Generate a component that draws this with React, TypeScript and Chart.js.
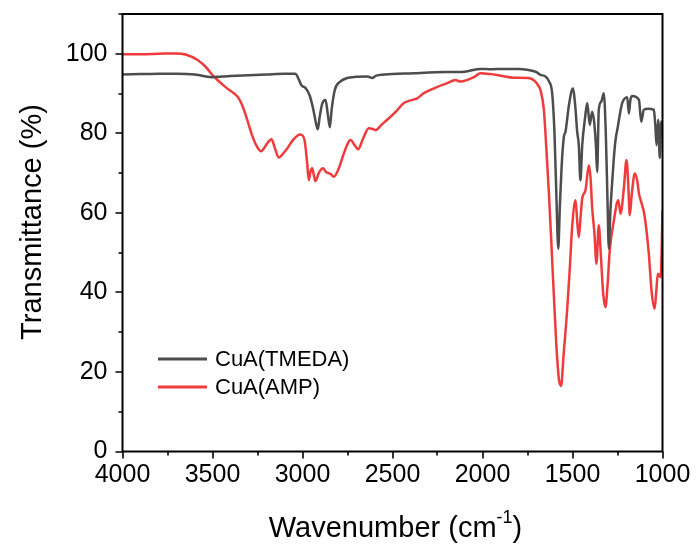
import React, { useEffect, useRef } from "react";
import { Chart, registerables } from "chart.js";

Chart.register(...registerables);

const tmedaWavenumber = [
  4000, 3900, 3800, 3700, 3600, 3550, 3500, 3450, 3400, 3300, 3200, 3100, 3040, 3020, 3005, 2985, 2960, 2940,
  2925, 2915, 2905, 2890, 2872, 2860, 2848, 2838, 2820, 2790, 2752, 2700, 2640, 2613, 2590, 2500, 2383, 2300,
  2200, 2100, 2011, 1950, 1900, 1800, 1752, 1700, 1678, 1650, 1630, 1613, 1600, 1590, 1579, 1570, 1560, 1548,
  1539, 1520, 1498, 1485, 1474, 1465, 1456, 1446, 1430, 1418, 1404, 1391, 1380, 1370, 1363, 1354, 1340, 1326,
  1315, 1305, 1298, 1290, 1280, 1270, 1261, 1248, 1236, 1224, 1196, 1187, 1178, 1168, 1131, 1118, 1104, 1080,
  1048, 1040, 1033, 1024, 1015, 1007, 1000,
];
const tmedaTransmittance = [
  94.8, 94.9, 95.0, 95.0, 94.8, 94.4, 94.1, 94.3, 94.4, 94.6, 94.8, 95.0, 95.0, 93.5, 92.0, 91.5, 89.5, 86.0,
  82.5, 81.0, 84.0, 87.5, 88.4, 85.0, 81.5, 86.0, 91.0, 93.0, 93.9, 94.2, 94.3, 93.9, 94.5, 94.9, 95.1, 95.3,
  95.4, 95.5, 96.2, 96.1, 96.2, 96.2, 96.0, 95.4, 94.7, 94.3, 93.0, 90.1, 80.0, 65.0, 51.0, 62.0, 72.0, 79.1,
  80.4, 87.0, 91.3, 87.0, 80.4, 77.0, 68.2, 77.0, 84.0, 87.6, 82.1, 85.4, 83.0, 77.0, 70.3, 85.9, 88.0, 90.1,
  80.0, 62.0, 51.0, 60.0, 67.4, 74.0, 78.3, 81.7, 85.0, 87.6, 89.1, 85.0, 88.5, 89.4, 88.4, 82.9, 85.9, 86.2,
  85.9, 82.0, 77.0, 83.4, 73.8, 83.0, 82.0,
];

const ampWavenumber = [
  4000, 3900, 3800, 3700, 3650, 3585, 3540, 3493, 3450, 3419, 3380, 3354, 3330, 3307, 3280, 3252, 3230, 3210,
  3196, 3172, 3155, 3131, 3110, 3085, 3050, 3011, 2989, 2975, 2965, 2955, 2946, 2937, 2928, 2910, 2885, 2870,
  2863, 2845, 2826, 2800, 2770, 2743, 2733, 2710, 2691, 2665, 2632, 2610, 2594, 2560, 2529, 2480, 2437, 2400,
  2363, 2326, 2260, 2196, 2150, 2122, 2080, 2048, 2011, 1980, 1956, 1900, 1826, 1743, 1706, 1690, 1678, 1659,
  1645, 1631, 1617, 1604, 1590, 1575, 1563, 1550, 1530, 1515, 1502, 1483, 1474, 1465, 1455, 1446, 1428, 1409,
  1400, 1391, 1378, 1367, 1354, 1344, 1330, 1317, 1305, 1293, 1270, 1246, 1233, 1215, 1200, 1190, 1182, 1170,
  1154, 1140, 1131, 1120, 1100, 1076, 1060, 1044, 1035, 1026, 1011, 1005, 1000,
];
const ampTransmittance = [
  99.9, 99.9, 100.0, 100.1, 99.8, 98.5, 96.8, 94.3, 92.5, 91.3, 90.0, 88.8, 86.5, 83.4, 79.5, 76.6, 75.5, 76.5,
  77.5, 78.5, 76.5, 73.9, 74.8, 76.2, 78.5, 79.7, 78.3, 73.0, 68.2, 70.5, 71.2, 69.5, 68.0, 70.0, 71.2, 70.3,
  70.1, 69.8, 69.1, 71.0, 75.0, 77.9, 78.3, 77.0, 76.0, 78.5, 81.3, 81.1, 80.8, 82.2, 83.4, 85.5, 87.6, 88.3,
  88.8, 90.1, 91.5, 92.6, 93.4, 93.0, 93.5, 94.1, 95.1, 95.0, 94.9, 94.5, 94.0, 93.9, 93.0, 92.0, 90.9, 85.9,
  76.0, 64.9, 52.0, 39.6, 27.0, 18.0, 16.5, 24.0, 35.4, 46.0, 56.4, 63.2, 58.0, 53.9, 59.0, 63.6, 65.7, 72.0,
  69.0, 61.5, 54.8, 47.2, 56.9, 50.6, 40.0, 36.3, 42.0, 50.6, 58.1, 63.2, 59.8, 66.0, 73.3, 67.0, 59.4, 65.0,
  69.9, 68.0, 64.9, 63.0, 59.4, 49.7, 40.0, 35.9, 40.0, 44.7, 43.8, 50.0, 60.7,
];

const seriesLabels = ["CuA(TMEDA)", "CuA(AMP)"];
const seriesColors = ["#4d4d4d", "#ef3b3b"];
const xMajorTicks = [4000, 3500, 3000, 2500, 2000, 1500, 1000];
const xMinorTicks = [3750, 3250, 2750, 2250, 1750, 1250];
const yMajorTicks = [0, 20, 40, 60, 80, 100];
const yMinorTicks = [10, 30, 50, 70, 90, 110];
const xTitleParts = ["Wavenumber (cm", "-1", ")"];
const yTitleText = "Transmittance (%)";

const FONT = "'Liberation Sans', Arial, sans-serif";

const decorPlugin = {
  id: "decor",
  afterDraw(chart: any) {
    const { ctx, chartArea: a, scales } = chart;
    const xs = scales.x;
    const ys = scales.y;
    ctx.save();
    ctx.strokeStyle = "#000";
    ctx.lineWidth = 2;
    ctx.strokeRect(a.left, a.top, a.right - a.left, a.bottom - a.top);
    ctx.lineWidth = 1.6;
    ctx.beginPath();
    xMajorTicks.forEach((v) => {
      const px = Math.round(xs.getPixelForValue(v));
      ctx.moveTo(px, a.bottom);
      ctx.lineTo(px, a.bottom + 7);
    });
    xMinorTicks.forEach((v) => {
      const px = Math.round(xs.getPixelForValue(v));
      ctx.moveTo(px, a.bottom);
      ctx.lineTo(px, a.bottom + 4);
    });
    yMajorTicks.forEach((v) => {
      const py = Math.round(ys.getPixelForValue(v));
      ctx.moveTo(a.left, py);
      ctx.lineTo(a.left - 7, py);
    });
    yMinorTicks.forEach((v) => {
      const py = Math.round(ys.getPixelForValue(v));
      ctx.moveTo(a.left, py);
      ctx.lineTo(a.left - 4, py);
    });
    ctx.stroke();

    ctx.fillStyle = "#000";
    ctx.font = `29px ${FONT}`;
    ctx.textAlign = "center";
    ctx.textBaseline = "alphabetic";
    ctx.save();
    ctx.translate(41, 222);
    ctx.rotate(-Math.PI / 2);
    ctx.fillText(yTitleText, 0, 0);
    ctx.restore();

    ctx.textAlign = "left";
    const mainFont = `29px ${FONT}`;
    const supFont = `18px ${FONT}`;
    ctx.font = mainFont;
    const w1 = ctx.measureText(xTitleParts[0]).width;
    const w3 = ctx.measureText(xTitleParts[2]).width;
    ctx.font = supFont;
    const w2 = ctx.measureText(xTitleParts[1]).width;
    const total = w1 + w2 + w3;
    const cx = (a.left + a.right) / 2 + 3;
    let sx = cx - total / 2;
    const base = 537;
    ctx.font = mainFont;
    ctx.fillText(xTitleParts[0], sx, base);
    sx += w1;
    ctx.font = supFont;
    ctx.fillText(xTitleParts[1], sx, base - 14);
    sx += w2;
    ctx.font = mainFont;
    ctx.fillText(xTitleParts[2], sx, base);

    const legendY = [359, 387];
    ctx.font = `22px ${FONT}`;
    ctx.textBaseline = "middle";
    chart.data.datasets.forEach((ds: any, i: number) => {
      ctx.strokeStyle = ds.borderColor;
      ctx.lineWidth = 3;
      ctx.beginPath();
      ctx.moveTo(158, legendY[i]);
      ctx.lineTo(207, legendY[i]);
      ctx.stroke();
      ctx.fillStyle = "#000";
      ctx.fillText(ds.label, 215, legendY[i] + 1);
    });
    ctx.restore();
  },
};

export default function App() {
  const ref = useRef<HTMLCanvasElement | null>(null);
  useEffect(() => {
    if (!ref.current) return;
    const toPoints = (xs: number[], ys: number[]) => xs.map((x, i) => ({ x, y: ys[i] }));
    const chart = new Chart(ref.current, {
      type: "line",
      data: {
        datasets: [
          {
            label: seriesLabels[0],
            data: toPoints(tmedaWavenumber, tmedaTransmittance),
            borderColor: seriesColors[0],
            borderWidth: 2.5,
            pointRadius: 0,
            cubicInterpolationMode: "monotone",
            fill: false,
          },
          {
            label: seriesLabels[1],
            data: toPoints(ampWavenumber, ampTransmittance),
            borderColor: seriesColors[1],
            borderWidth: 2.5,
            pointRadius: 0,
            cubicInterpolationMode: "monotone",
            fill: false,
          },
        ],
      },
      options: {
        responsive: false,
        animation: false,
        devicePixelRatio: 1,
        layout: { padding: { left: 0, right: 34.5, top: 14, bottom: 0 } },
        plugins: { legend: { display: false }, tooltip: { enabled: false } },
        scales: {
          x: {
            type: "linear",
            reverse: true,
            min: 1000,
            max: 4000,
            grid: { display: false, drawTicks: false },
            border: { display: false },
            ticks: {
              font: { size: 25, family: FONT },
              color: "#000",
              padding: 9,
              maxRotation: 0,
              callback: (v: any) => String(v),
            },
            afterBuildTicks: (s: any) => {
              s.ticks = xMajorTicks.map((v) => ({ value: v }));
            },
            afterFit: (s: any) => {
              s.height = 92.5;
              s.paddingLeft = 0;
              s.paddingRight = 0;
            },
          },
          y: {
            type: "linear",
            min: 0,
            max: 110,
            grid: { display: false, drawTicks: false },
            border: { display: false },
            ticks: {
              font: { size: 25, family: FONT },
              color: "#000",
              padding: 15,
              callback: (v: any) => String(v),
            },
            afterBuildTicks: (s: any) => {
              s.ticks = yMajorTicks.map((v) => ({ value: v }));
            },
            afterFit: (s: any) => {
              s.width = 122.5;
              s.paddingTop = 0;
              s.paddingBottom = 0;
            },
          },
        },
      },
      plugins: [decorPlugin],
    });
    return () => chart.destroy();
  }, []);
  return (
    <div style={{ position: "absolute", left: 0, top: 0, width: 697, height: 544, background: "#fff" }}>
      <canvas ref={ref} width={697} height={544} />
    </div>
  );
}
